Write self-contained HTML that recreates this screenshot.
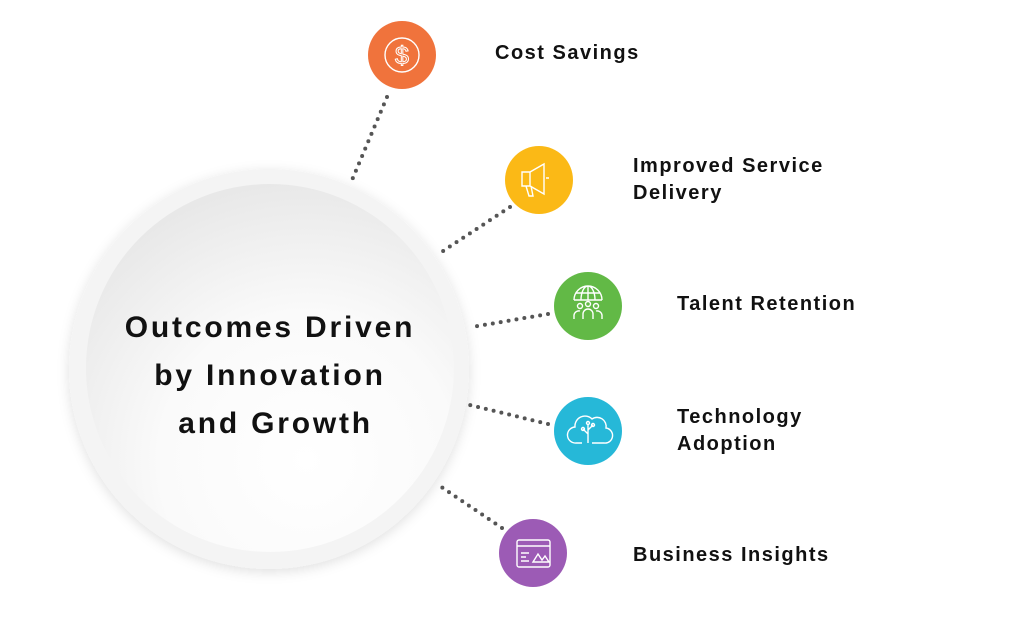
<!DOCTYPE html>
<html><head><style>
body{margin:0;background:#fff;width:1024px;height:631px;overflow:hidden;position:relative;font-family:"Liberation Sans",sans-serif}
.lbl{position:absolute;font-weight:bold;font-size:20px;color:#111;letter-spacing:1.5px;line-height:27px}
</style></head><body>
<svg width="1024" height="631" style="position:absolute;left:0;top:0">
<defs>
<radialGradient id="g" cx="0.6" cy="0.75" r="0.8">
<stop offset="0" stop-color="#ffffff"/><stop offset="0.5" stop-color="#fafafa"/><stop offset="1" stop-color="#e6e6e6"/>
</radialGradient>
<filter id="s" x="-20%" y="-20%" width="140%" height="140%"><feDropShadow dx="0" dy="3" stdDeviation="6" flood-color="#000" flood-opacity="0.12"/></filter>
</defs>
<circle cx="269" cy="369" r="200" fill="#f4f4f4" filter="url(#s)"/>
<circle cx="270" cy="368" r="184" fill="url(#g)"/>
<g stroke="#555" stroke-width="4" stroke-linecap="round" stroke-dasharray="0 8" fill="none">
<line x1="387" y1="97" x2="352" y2="180"/>
<line x1="510" y1="207" x2="437" y2="255"/>
<line x1="548" y1="314" x2="472" y2="327"/>
<line x1="548" y1="424" x2="470" y2="405"/>
<line x1="502" y1="528" x2="437" y2="484"/>
</g>
<circle cx="402" cy="55" r="34" fill="#f0733c"/>
<circle cx="539" cy="180" r="34" fill="#fbb916"/>
<circle cx="588" cy="306" r="34" fill="#62b946"/>
<circle cx="588" cy="431" r="34" fill="#26b8d8"/>
<circle cx="533" cy="553" r="34" fill="#9c5bb5"/>
<g stroke="#fff" stroke-width="1.4" fill="none">
<circle cx="402" cy="55" r="17"/>
<text x="402" y="64" font-size="25" fill="none" stroke="#fff" stroke-width="1" text-anchor="middle" font-family="Liberation Sans">$</text>
<path d="M522 172h8l14-8v30l-14-8h-8zM526 186l3 10h4l-2-10M530 172v14M546 178h3"/>
<path d="M574 300a14 14 0 0 1 28 0M574 300h28M588 286v14M581 300a7 14 0 0 1 14 0M576 293h24"/>
<circle cx="580" cy="306" r="2.5"/><circle cx="588" cy="304" r="2.5"/><circle cx="596" cy="306" r="2.5"/>
<path d="M574 319v-4a5 5 0 0 1 6-4M583 319v-5a5 5 0 0 1 10 0v5M602 319v-4a5 5 0 0 0-6-4"/>
<path d="M582 443h-6a8 8 0 0 1-1-16 10 10 0 0 1 17-8 9 9 0 0 1 14 9 7 7 0 0 1-2 15h-12M588 443v-18M588 434l-5-5M588 430l5-5"/>
<circle cx="583" cy="429" r="1.5"/><circle cx="593" cy="425" r="1.5"/><circle cx="588" cy="423" r="1.5"/>
<rect x="517" y="540" width="33" height="27" rx="2"/><path d="M517 546h33M521 553h8M521 557h5M521 561h8M533 562l5-8 4 6 3-4 4 6z"/>
</g>
</svg>
<div style="position:absolute;left:70px;top:304px;width:400px;text-align:center;font-weight:bold;font-size:30px;letter-spacing:2.8px;line-height:48px;color:#111">Outcomes Driven<br>by Innovation<br>&nbsp;and Growth</div>
<div class="lbl" style="left:495px;top:40px">Cost Savings</div>
<div class="lbl" style="left:633px;top:153px">Improved Service<br>Delivery</div>
<div class="lbl" style="left:677px;top:291px">Talent Retention</div>
<div class="lbl" style="left:677px;top:404px">Technology<br>Adoption</div>
<div class="lbl" style="left:633px;top:542px">Business Insights</div>
</body></html>
